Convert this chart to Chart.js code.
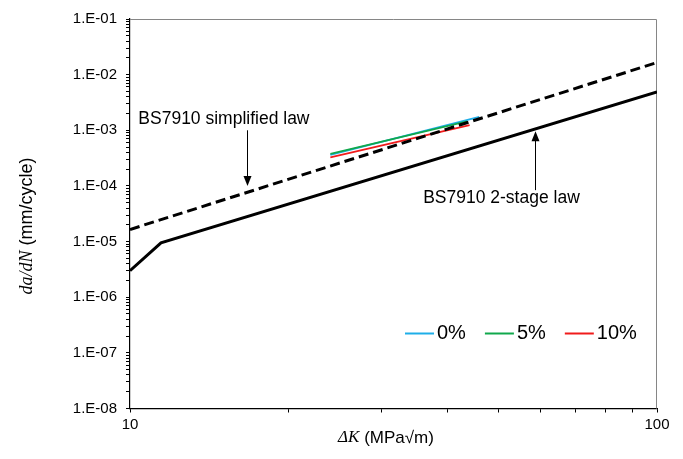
<!DOCTYPE html>
<html>
<head>
<meta charset="utf-8">
<script src="https://cdn.jsdelivr.net/npm/chart.js@4/dist/chart.umd.min.js"></script>
<style>
  html, body { margin: 0; padding: 0; background: #fff; }
</style>
</head>
<body>
<canvas id="container" width="683" height="459"></canvas>
<script>
// BS7910 reference laws (ΔK in MPa√m, da/dN in mm/cycle)
const deltaK2Stage = [10, 11.45, 100];
const dadN2Stage = [3.0e-6, 9.5e-6, 4.9e-3];
const deltaKSimplified = [10, 100];
const dadNSimplified = [1.65e-5, 1.65e-2];

// measured crack growth fits
const seriesLabels = ['0%', '5%', '10%'];
const seriesColors = ['#1eaee8', '#10a84c', '#f01b1b'];
const seriesK = [[24, 46], [24, 43.6], [24, 44.1]];
const seriesRate = [[3.6e-4, 1.75e-3], [3.75e-4, 1.45e-3], [3.25e-4, 1.24e-3]];

// axes
const xTickValues = [10, 100];
const xTickLabels = ['10', '100'];
const yTickValues = [1e-8, 1e-7, 1e-6, 1e-5, 1e-4, 1e-3, 1e-2, 1e-1];
const yTickLabels = ['1.E-08', '1.E-07', '1.E-06', '1.E-05', '1.E-04', '1.E-03', '1.E-02', '1.E-01'];

// callouts: text anchor, and arrow from -> tip (data units)
const noteTexts = ['BS7910 simplified law', 'BS7910 2-stage law'];
const noteAnchors = [[10.37, 1.6e-3], [36, 6.1e-5]];
const noteArrows = [[16.66, 1.0e-3, 16.66, 1.0e-4], [58.6, 8.4e-5, 58.6, 9.6e-4]];

const SANS = '"Liberation Sans", Arial, sans-serif';
const SERIF = '"Liberation Serif", "Times New Roman", serif';
Chart.defaults.font.family = SANS;
Chart.defaults.color = '#000';

function minorTicks(values) {
  const out = [];
  for (let i = 0; i < values.length - 1; i++) {
    for (let m = 1; m < 10; m++) out.push(values[i] * m);
  }
  out.push(values[values.length - 1]);
  return out;
}

function pts(xs, ys) {
  return xs.map((x, i) => ({ x: x, y: ys[i] }));
}

const datasets = seriesLabels.map((label, i) => ({
  label: label,
  data: pts(seriesK[i], seriesRate[i]),
  borderColor: seriesColors[i],
  borderWidth: 1.8,
  pointRadius: 0,
  order: 3 - i,
}));
datasets.push({
  label: 'BS7910 simplified law',
  data: pts(deltaKSimplified, dadNSimplified),
  borderColor: '#000',
  borderWidth: 3,
  borderDash: [10, 5],
  pointRadius: 0,
  order: 0,
});
datasets.push({
  label: 'BS7910 2-stage law',
  data: pts(deltaK2Stage, dadN2Stage),
  borderColor: '#000',
  borderWidth: 3,
  pointRadius: 0,
  order: 0,
});

function drawMixed(ctx, parts, cx, cy) {
  let total = 0;
  parts.forEach(p => { ctx.font = p.font; p.w = ctx.measureText(p.text).width; total += p.w; });
  let x = cx - total / 2;
  ctx.textAlign = 'left';
  ctx.textBaseline = 'middle';
  parts.forEach(p => { ctx.font = p.font; ctx.fillText(p.text, x, cy); x += p.w; });
}

const decorations = {
  id: 'decorations',
  beforeDatasetsDraw(chart) {
    const { ctx, chartArea: a } = chart;
    ctx.save();
    ctx.strokeStyle = '#868686';
    ctx.lineWidth = 1;
    ctx.beginPath();
    ctx.moveTo(a.left, a.top + 0.5);
    ctx.lineTo(a.right - 0.5, a.top + 0.5);
    ctx.lineTo(a.right - 0.5, a.bottom);
    ctx.stroke();
    ctx.restore();
  },
  afterDraw(chart) {
    const { ctx, chartArea: a } = chart;
    const xs = chart.scales.x, ys = chart.scales.y;
    ctx.save();
    ctx.fillStyle = '#000';

    // callout text
    ctx.font = '17.5px ' + SANS;
    ctx.textAlign = 'left';
    ctx.textBaseline = 'middle';
    noteTexts.forEach((t, i) => {
      ctx.fillText(t, xs.getPixelForValue(noteAnchors[i][0]), ys.getPixelForValue(noteAnchors[i][1]));
    });

    // callout arrows
    noteArrows.forEach(ar => {
      const x = Math.round(xs.getPixelForValue(ar[0])) + 0.5;
      const y0 = ys.getPixelForValue(ar[1]);
      const y1 = ys.getPixelForValue(ar[3]);
      const dir = y1 > y0 ? 1 : -1;
      ctx.strokeStyle = '#000';
      ctx.lineWidth = 1;
      ctx.beginPath();
      ctx.moveTo(x, y0);
      ctx.lineTo(x, y1 - dir * 8);
      ctx.stroke();
      ctx.beginPath();
      ctx.moveTo(x, y1);
      ctx.lineTo(x - 4, y1 - dir * 10);
      ctx.lineTo(x + 4, y1 - dir * 10);
      ctx.closePath();
      ctx.fill();
    });

    // legend for the measured series
    let lx = 405;
    const ly = 333.5;
    ctx.font = '20px ' + SANS;
    chart.data.datasets.slice(0, seriesLabels.length).forEach(ds => {
      ctx.strokeStyle = ds.borderColor;
      ctx.lineWidth = 2;
      ctx.beginPath();
      ctx.moveTo(lx, ly);
      ctx.lineTo(lx + 29, ly);
      ctx.stroke();
      ctx.fillStyle = '#000';
      ctx.fillText(ds.label, lx + 32, ly);
      lx += 32 + ctx.measureText(ds.label).width + 19;
    });

    // axis titles
    drawMixed(ctx, [
      { text: 'ΔK', font: 'italic 17px ' + SERIF },
      { text: ' (MPa√m)', font: '17px ' + SANS },
    ], 386, 438);

    ctx.translate(27, 226);
    ctx.rotate(-Math.PI / 2);
    drawMixed(ctx, [
      { text: 'da/dN', font: 'italic 18px ' + SERIF },
      { text: ' (mm/cycle)', font: '18px ' + SANS },
    ], 0, 0);
    ctx.restore();
  }
};

const config = {
  type: 'line',
  data: { datasets: datasets },
  options: {
    responsive: false,
    animation: false,
    layout: { padding: { left: 0, top: 19, right: 26, bottom: 0 } },
    plugins: {
      legend: { display: false },
      tooltip: { enabled: false },
    },
    scales: {
      x: {
        type: 'logarithmic',
        min: 10,
        max: 100,
        afterBuildTicks: (scale) => { scale.ticks = minorTicks(xTickValues).map(v => ({ value: v })); },
        afterFit: (scale) => { scale.height = 50.5; },
        ticks: {
          autoSkip: false,
          maxRotation: 0,
          padding: 3,
          font: { size: 15 },
          callback: (v) => {
            const i = xTickValues.findIndex(t => Math.abs(t - v) / t < 1e-6);
            return i >= 0 ? xTickLabels[i] : '';
          },
        },
        grid: { drawOnChartArea: false, tickLength: 4, tickColor: '#000' },
        border: { color: '#000', width: 1.2 },
      },
      y: {
        type: 'logarithmic',
        min: 1e-8,
        max: 1e-1,
        afterBuildTicks: (scale) => { scale.ticks = minorTicks(yTickValues).map(v => ({ value: v })); },
        afterFit: (scale) => { scale.width = 130; },
        ticks: {
          autoSkip: false,
          padding: 9,
          font: { size: 15 },
          callback: (v) => {
            const i = yTickValues.findIndex(t => Math.abs(t - v) / t < 1e-6);
            return i >= 0 ? yTickLabels[i] : '';
          },
        },
        grid: { drawOnChartArea: false, tickLength: 4, tickColor: '#000' },
        border: { color: '#000', width: 1.2 },
      },
    },
  },
  plugins: [decorations],
};

const chart = new Chart(document.getElementById('container'), config);
</script>
</body>
</html>
